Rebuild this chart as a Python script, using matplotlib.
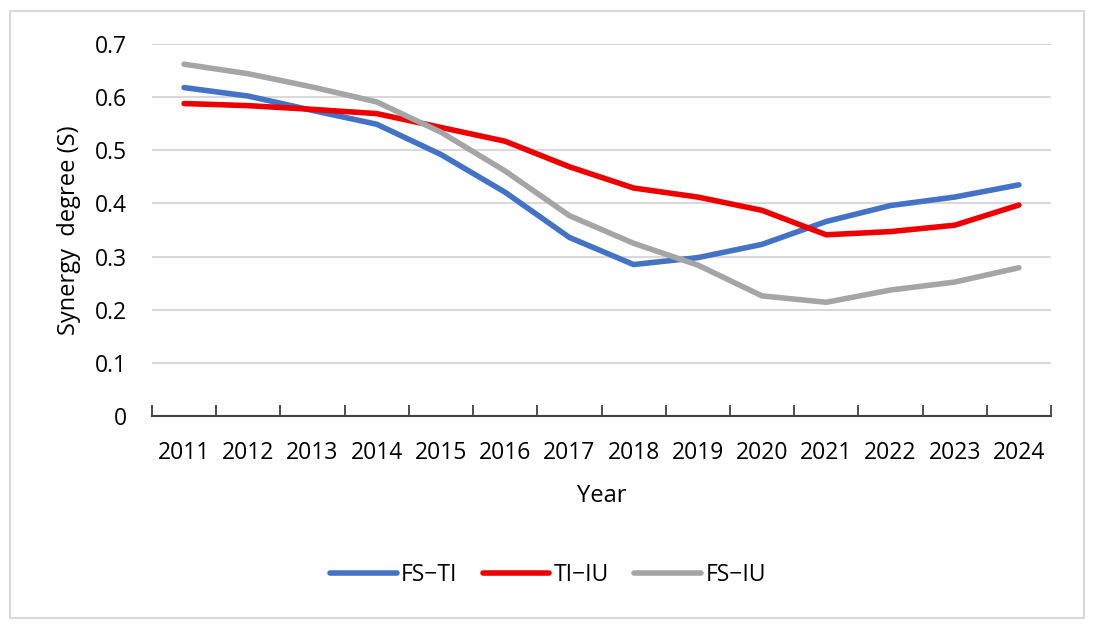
import numpy as np
import matplotlib
matplotlib.use('Agg')
import matplotlib.pyplot as plt
from matplotlib.patches import Rectangle

plt.rcParams['font.family'] = ['Open Sans', 'DejaVu Sans']

years = ['2011', '2012', '2013', '2014', '2015', '2016', '2017',
         '2018', '2019', '2020', '2021', '2022', '2023', '2024']

fs_ti = [0.618, 0.602, 0.575, 0.549, 0.492, 0.421, 0.336,
         0.285, 0.298, 0.323, 0.366, 0.396, 0.412, 0.435]
ti_iu = [0.588, 0.584, 0.577, 0.569, 0.543, 0.517, 0.469,
         0.429, 0.412, 0.387, 0.341, 0.347, 0.359, 0.397]
fs_iu = [0.662, 0.644, 0.619, 0.591, 0.534, 0.461, 0.377,
         0.325, 0.284, 0.226, 0.214, 0.237, 0.252, 0.279]

series = [('FS\u2212TI', fs_ti, '#4472C4'),
          ('TI\u2212IU', ti_iu, '#EE0000'),
          ('FS\u2212IU', fs_iu, '#A5A5A5')]

fig = plt.figure(figsize=(10.94, 6.28), dpi=100)
ax = fig.add_axes([152/1094, 1-416/628, (1051-152)/1094, (416-44)/628])

x = np.arange(len(years))
for name, vals, col in series:
    ax.plot(x, vals, color=col, lw=4.0, label=name, solid_capstyle='round',
            solid_joinstyle='round')

ax.set_xlim(-0.5, len(years)-0.5)
ax.set_ylim(0, 0.7)
ax.set_yticks(np.arange(0, 0.71, 0.1))
ax.set_yticklabels(['0' if v == 0 else '%.1f' % v for v in np.arange(0, 0.71, 0.1)])
ax.yaxis.grid(True, color='#D9D9D9', lw=1.5)
ax.set_axisbelow(True)

ax.set_xticks(x)
ax.set_xticklabels(years)
ax.set_xticks(np.arange(-0.5, len(years), 1), minor=True)
ax.tick_params(axis='x', which='major', length=0, pad=18, labelsize=16.5, labelcolor='black')
ax.tick_params(axis='x', which='minor', direction='in', length=8, width=1.3, color='#404040')
ax.tick_params(axis='y', length=0, pad=18, labelsize=16.5, labelcolor='black')

for s in ['top', 'right', 'left']:
    ax.spines[s].set_visible(False)
ax.spines['bottom'].set_color('#404040')
ax.spines['bottom'].set_linewidth(1.5)

ax.set_ylabel('Synergy  degree (S)', fontsize=17, labelpad=10)
ax.set_xlabel('Year', fontsize=17, labelpad=14)

leg = fig.legend(loc='center', bbox_to_anchor=(548/1094, 1-575/628), ncol=3,
                 frameon=False, fontsize=16.5, handlelength=2.9,
                 columnspacing=1.1, handletextpad=0.2)

fig.patches.append(Rectangle((10/1094, 1-618/628), 1074/1094, 607/628,
                             transform=fig.transFigure, fill=False,
                             edgecolor='#D9D9D9', lw=1.5))

plt.savefig('out.png', dpi=100)
